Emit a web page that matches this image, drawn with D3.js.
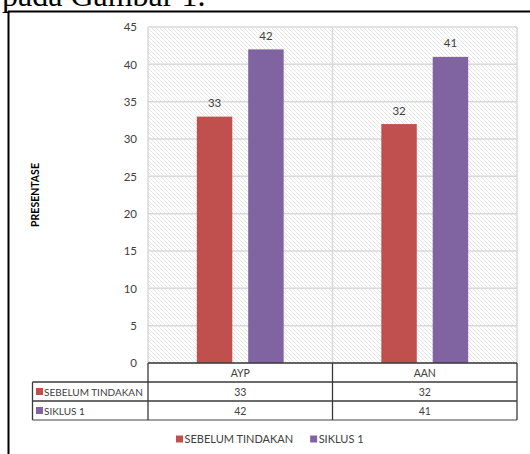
<!DOCTYPE html>
<html>
<head>
<meta charset="utf-8">
<script src="https://cdn.jsdelivr.net/npm/d3@7"></script>
<style>
  html, body { margin: 0; padding: 0; background: #fff; }
  svg { display: block; }
</style>
</head>
<body>
<svg id="chart" width="530" height="454"></svg>
<script>
// ---- data ----
const categories = ["AYP", "AAN"];
const seriesNames = ["SEBELUM TINDAKAN", "SIKLUS 1"];
const sebelumTindakan = [33, 32];
const siklus1 = [42, 41];
const yTicks = [0, 5, 10, 15, 20, 25, 30, 35, 40, 45];
const seriesColors = ["#C0504D", "#8064A2"];
const yTitle = "PRESENTASE";
const captionText = "pada Gambar 1.";

const seriesValues = [sebelumTindakan, siklus1];

const svg = d3.select("#chart");
const font = "Lato, 'Open Sans', sans-serif";
const textColor = "#404040";

// caption text (cropped at top)
svg.append("text")
  .attr("x", 2).attr("y", 6)
  .attr("font-family", "'Liberation Serif', 'Times New Roman', serif")
  .attr("font-size", 32)
  .attr("fill", "#000")
  .text(captionText);

// frame
svg.append("line").attr("x1", 8).attr("x2", 530).attr("y1", 11.5).attr("y2", 11.5)
  .attr("stroke", "#000").attr("stroke-width", 2);
svg.append("line").attr("x1", 8.5).attr("x2", 8.5).attr("y1", 11).attr("y2", 454)
  .attr("stroke", "#000").attr("stroke-width", 2);

// plot geometry
const plot = { left: 148, right: 517, top: 27, bottom: 363 };
const tableLeft = 32.5;
const rowH = 19;

const x = d3.scaleBand().domain(categories).range([plot.left, plot.right]).paddingInner(0).paddingOuter(0);
const xs = d3.scaleBand().domain(d3.range(seriesNames.length)).range([0, x.bandwidth()]).paddingInner(0.31).paddingOuter(0.95);
const y = d3.scaleLinear().domain([0, 45]).range([plot.bottom, plot.top]);

// hatch pattern
const defs = svg.append("defs");
const pat = defs.append("pattern").attr("id", "hatch")
  .attr("patternUnits", "userSpaceOnUse").attr("width", 4).attr("height", 4);
pat.append("rect").attr("width", 4).attr("height", 4).attr("fill", "#fff");
pat.append("path").attr("d", "M-1,-1 L5,5 M-1,3 L1,5 M3,-1 L5,1")
  .attr("stroke", "#e6e6e6").attr("stroke-width", 1);

svg.append("rect")
  .attr("x", plot.left).attr("y", plot.top)
  .attr("width", plot.right - plot.left).attr("height", plot.bottom - plot.top)
  .attr("fill", "url(#hatch)");

// gridlines
svg.append("g").selectAll("line").data(yTicks).join("line")
  .attr("x1", plot.left).attr("x2", plot.right)
  .attr("y1", d => y(d)).attr("y2", d => y(d))
  .attr("stroke", "#d9d9d9").attr("stroke-width", 1.5);

// vertical gridlines (category boundaries)
const bounds = [plot.left, ...categories.map(c => x(c) + x.bandwidth())];
svg.append("g").selectAll("line").data(bounds).join("line")
  .attr("x1", d => d).attr("x2", d => d)
  .attr("y1", plot.top).attr("y2", plot.bottom)
  .attr("stroke", "#d9d9d9").attr("stroke-width", 1.5);

// y axis tick labels
const yAxis = d3.axisLeft(y).tickValues(yTicks).tickSize(0).tickPadding(11);
const yg = svg.append("g").attr("transform", `translate(${plot.left},0)`).call(yAxis);
yg.select(".domain").remove();
yg.selectAll("text").attr("font-family", font).attr("font-size", 11.5).attr("fill", textColor);

// bars
const groups = svg.append("g").selectAll("g").data(categories).join("g")
  .attr("transform", d => `translate(${x(d)},0)`);
groups.selectAll("rect")
  .data((c, i) => seriesValues.map((vals, s) => ({ s, v: vals[i] })))
  .join("rect")
  .attr("x", d => xs(d.s)).attr("width", xs.bandwidth())
  .attr("y", d => y(d.v)).attr("height", d => y(0) - y(d.v))
  .attr("fill", d => seriesColors[d.s]);
groups.selectAll("text.lbl")
  .data((c, i) => seriesValues.map((vals, s) => ({ s, v: vals[i] })))
  .join("text").attr("class", "lbl")
  .attr("x", d => xs(d.s) + xs.bandwidth() / 2)
  .attr("y", d => y(d.v) - 9.5)
  .attr("text-anchor", "middle")
  .attr("font-family", font).attr("font-size", 11.5).attr("fill", textColor)
  .text(d => d.v);

// y axis title
svg.append("text")
  .attr("transform", "translate(39,195) rotate(-90)")
  .attr("text-anchor", "middle")
  .attr("font-family", font).attr("font-size", 10.5).attr("font-weight", "bold")
  .attr("fill", "#000")
  .text(yTitle);

// data table
const tbl = svg.append("g");
const r0 = plot.bottom, r1 = r0 + rowH, r2 = r1 + rowH, r3 = r2 + rowH;
const tblStroke = "#3a3a3a";
tbl.append("line").attr("x1", plot.left).attr("x2", plot.right).attr("y1", r0).attr("y2", r0)
  .attr("stroke", tblStroke).attr("stroke-width", 1.3);
[r1, r2].forEach(yy => tbl.append("line").attr("x1", tableLeft).attr("x2", plot.right)
  .attr("y1", yy).attr("y2", yy).attr("stroke", tblStroke).attr("stroke-width", 1.3));
tbl.append("line").attr("x1", tableLeft).attr("x2", plot.right).attr("y1", r3).attr("y2", r3)
  .attr("stroke", "#a0a0a0").attr("stroke-width", 2);
tbl.append("line").attr("x1", tableLeft).attr("x2", tableLeft).attr("y1", r1).attr("y2", r3)
  .attr("stroke", tblStroke).attr("stroke-width", 1.3);
bounds.forEach(bx => tbl.append("line").attr("x1", bx).attr("x2", bx).attr("y1", r0).attr("y2", r3)
  .attr("stroke", tblStroke).attr("stroke-width", 1.3));

// category labels
tbl.selectAll("text.cat").data(categories).join("text").attr("class", "cat")
  .attr("x", d => x(d) + x.bandwidth() / 2).attr("y", r0 + rowH / 2 + 4)
  .attr("text-anchor", "middle")
  .attr("font-family", font).attr("font-size", 10.5).attr("fill", textColor)
  .text(d => d);

// series rows
seriesNames.forEach((name, s) => {
  const ry = r1 + s * rowH;
  tbl.append("rect").attr("x", 36).attr("y", ry + rowH / 2 - 3.5).attr("width", 7).attr("height", 7)
    .attr("fill", seriesColors[s]);
  tbl.append("text").attr("x", 44).attr("y", ry + rowH / 2 + 4)
    .attr("font-family", font).attr("font-size", 10).attr("fill", textColor)
    .text(name);
  categories.forEach((c, i) => {
    tbl.append("text").attr("x", x(c) + x.bandwidth() / 2).attr("y", ry + rowH / 2 + 4)
      .attr("text-anchor", "middle")
      .attr("font-family", font).attr("font-size", 10.5).attr("fill", textColor)
      .text(seriesValues[s][i]);
  });
});

// legend
const leg = svg.append("g");
const legY = 439;
let cx = 176;
seriesNames.forEach((name, s) => {
  leg.append("rect").attr("x", cx).attr("y", legY - 3.5).attr("width", 7).attr("height", 7)
    .attr("fill", seriesColors[s]);
  const t = leg.append("text").attr("x", cx + 8.5).attr("y", legY + 4)
    .attr("font-family", font).attr("font-size", 11).attr("fill", textColor)
    .text(name);
  cx += 8.5 + t.node().getComputedTextLength() + 17;
});
</script>
</body>
</html>
